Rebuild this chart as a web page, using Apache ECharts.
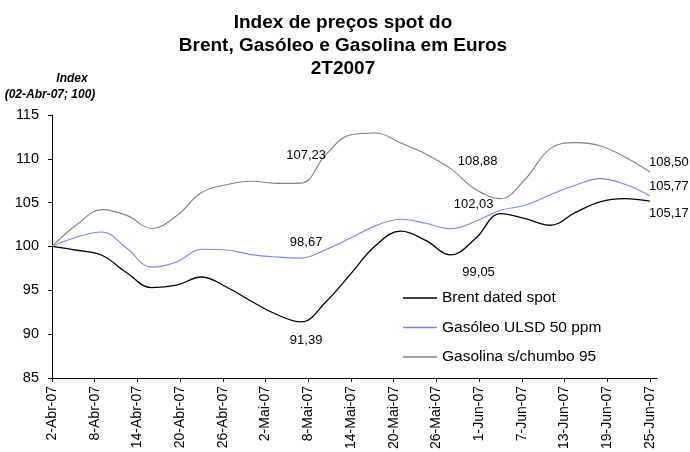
<!DOCTYPE html>
<html>
<head>
<meta charset="utf-8">
<script src="https://cdn.jsdelivr.net/npm/echarts@6/dist/echarts.min.js"></script>
<style>
  html, body { margin: 0; padding: 0; background: #fff; }
  #chart { width: 690px; height: 452px; }
</style>
</head>
<body>
<div id="chart"></div>
<script>
// dias desde 2-Abr-07 (leituras a cada meia semana)
var days = [0, 3.5, 7, 10.5, 14, 17.5, 21, 24.5, 28, 31.5, 35, 38.5, 42, 45.5, 49, 52.5, 56, 59.5, 63, 66.5, 70, 73.5, 77, 80.5, 84];
var brent = [100, 99.57, 99.0, 97.0, 95.3, 95.58, 96.52, 95.38, 93.75, 92.27, 91.39, 93.7, 96.9, 100.14, 101.75, 100.7, 99.05, 100.9, 103.75, 103.18, 102.42, 103.87, 105.1, 105.46, 105.17];
var gasoleo = [100, 101.08, 101.65, 99.8, 97.65, 98.24, 99.68, 99.6, 99.07, 98.8, 98.67, 99.65, 101.0, 102.38, 103.1, 102.65, 102.03, 102.87, 104.13, 104.7, 105.9, 106.98, 107.74, 107.09, 105.77];
var gasolina = [100, 102.5, 104.2, 103.55, 102.05, 103.5, 106.15, 107.05, 107.45, 107.2, 107.23, 110.5, 112.75, 112.95, 111.8, 110.55, 108.88, 106.52, 105.46, 107.7, 111.16, 111.85, 111.5, 110.2, 108.5];
var tickDays = [0, 6, 12, 18, 24, 30, 36, 42, 48, 54, 60, 66, 72, 78, 84];
var tickLabels = ["2-Abr-07", "8-Abr-07", "14-Abr-07", "20-Abr-07", "26-Abr-07", "2-Mai-07", "8-Mai-07",
  "14-Mai-07", "20-Mai-07", "26-Mai-07", "1-Jun-07", "7-Jun-07", "13-Jun-07", "19-Jun-07", "25-Jun-07"];
var labelledIdx = [10, 16, 24]; // 7-Mai, 28-Mai, 25-Jun

var font = "Liberation Sans, Arial, sans-serif";

function fmt(v) {
  return v.toFixed(2).replace(".", ",");
}

// só alguns pontos levam o rótulo do valor
function buildData(values, offsets) {
  return days.map(function (d, i) {
    var k = labelledIdx.indexOf(i);
    if (k < 0) return [d, values[i]];
    return {
      value: [d, values[i]],
      label: {
        show: true,
        position: "inside",
        align: "center",
        verticalAlign: "middle",
        offset: offsets[k],
        formatter: function (p) { return fmt(p.value[1]); },
        fontFamily: font,
        fontSize: 13,
        color: "#000"
      }
    };
  });
}

function lineSeries(name, color, width, values, offsets) {
  return {
    name: name,
    type: "line",
    smooth: 0.4,
    showSymbol: true,
    symbol: "circle",
    symbolSize: 0,
    color: color,
    lineStyle: { width: width, color: color },
    label: { show: false },
    data: buildData(values, offsets)
  };
}

var axisNameStyle = { fontFamily: font, fontSize: 12, fontWeight: "bold", fontStyle: "italic", color: "#000" };

var chart = echarts.init(document.getElementById("chart"));
var option = {
  animation: false,
  backgroundColor: "#fff",
  title: [
    {
      text: "Index de preços spot do\nBrent, Gasóleo e Gasolina em Euros\n2T2007",
      left: 338,
      top: 6,
      textAlign: "center",
      textStyle: { fontFamily: font, fontSize: 19, fontWeight: "bold", lineHeight: 23, color: "#000" }
    },
    { text: "Index", left: 72, top: 73, textAlign: "center", padding: 0, textStyle: axisNameStyle },
    { text: "(02-Abr-07; 100)", left: 50, top: 89, textAlign: "center", padding: 0, textStyle: axisNameStyle }
  ],
  grid: { left: 52, top: 115, width: 605, height: 263 },
  legend: {
    orient: "vertical",
    left: 403,
    top: 289,
    padding: 0,
    icon: "rect",
    itemWidth: 34,
    itemHeight: 1.5,
    itemGap: 11.5,
    textStyle: { fontFamily: font, fontSize: 15.5, lineHeight: 18, color: "#000" },
    data: ["Brent dated spot", "Gasóleo ULSD 50 ppm", "Gasolina s/chumbo 95"]
  },
  xAxis: {
    type: "value",
    min: 0,
    max: 85,
    axisLine: { show: true, lineStyle: { color: "#000", width: 1 } },
    axisTick: { show: true, length: 4, customValues: tickDays, lineStyle: { color: "#000" } },
    splitLine: { show: false },
    axisLabel: {
      rotate: 90,
      margin: 8,
      customValues: tickDays,
      fontFamily: font,
      fontSize: 14,
      color: "#000",
      formatter: function (v) {
        var i = tickDays.indexOf(v);
        return i < 0 ? "" : tickLabels[i];
      }
    }
  },
  yAxis: {
    type: "value",
    min: 85,
    max: 115,
    interval: 5,
    axisLine: { show: true, lineStyle: { color: "#000", width: 1 } },
    axisTick: { show: true, length: 4, lineStyle: { color: "#000" } },
    splitLine: { show: false },
    axisLabel: { margin: 13, fontFamily: font, fontSize: 14.5, color: "#000" }
  },
  series: [
    lineSeries("Brent dated spot", "#000000", 1.3, brent, [[5, 18], [28, 18], [19, 12]]),
    lineSeries("Gasóleo ULSD 50 ppm", "#8080ff", 1.1, gasoleo, [[5, -16], [23, -24], [19, -9]]),
    lineSeries("Gasolina s/chumbo 95", "#808080", 1.1, gasolina, [[5, -28], [27, -7], [19, -10]])
  ]
};
chart.setOption(option);
</script>
</body>
</html>
